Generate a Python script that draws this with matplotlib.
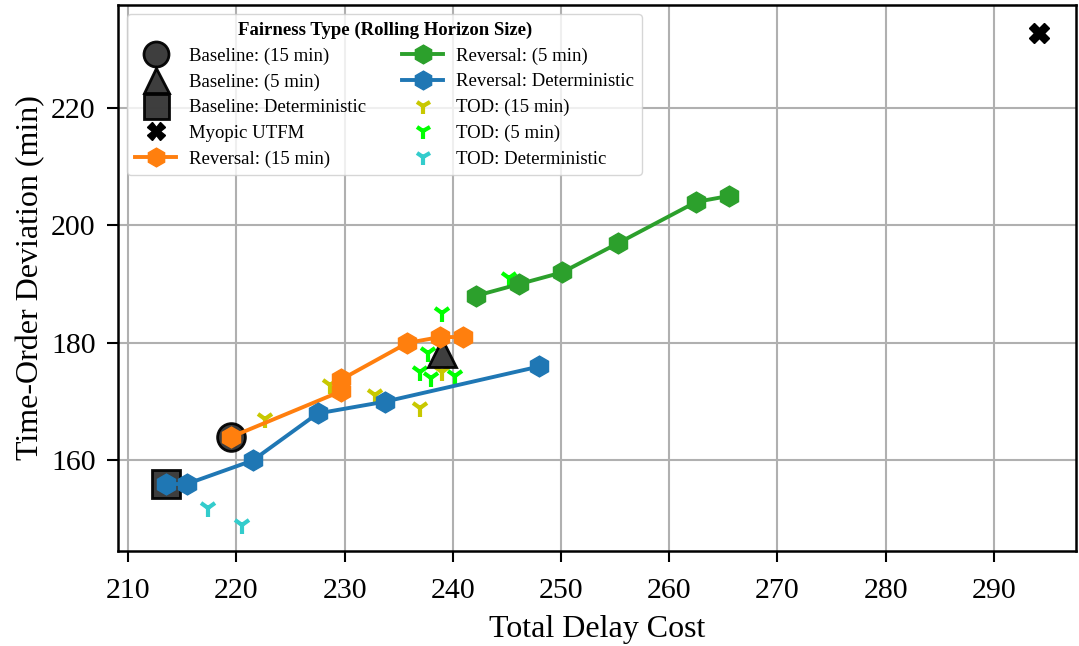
import numpy as np
import matplotlib
matplotlib.use('Agg')
import matplotlib.pyplot as plt

plt.rcParams['font.family'] = ['Liberation Serif', 'DejaVu Serif']

# baseline / myopic single points (total delay cost, time-order deviation)
base_15 = (219.5, 164.0)
base_5 = (239.0, 178.3)
base_det = (213.5, 156.0)
myopic = (294.2, 232.7)

# reversal fairness curves
rev15_x = [219.5, 229.7, 229.7, 235.8, 238.8, 240.9]
rev15_y = [164.0, 171.8, 173.8, 180.0, 181.0, 181.0]
rev5_x = [242.1, 246.1, 250.1, 255.3, 262.5, 265.5]
rev5_y = [188.0, 190.0, 192.0, 197.0, 204.0, 205.0]
revdet_x = [213.5, 215.4, 221.5, 227.5, 233.7, 248.0]
revdet_y = [156.0, 156.0, 160.0, 168.0, 170.0, 176.0]

# TOD fairness points
tod15_x = [222.6, 228.6, 232.8, 237.0, 239.0]
tod15_y = [167.0, 172.9, 171.2, 169.0, 175.0]
tod5_x = [237.0, 237.7, 238.0, 239.0, 240.2, 245.2]
tod5_y = [175.0, 178.3, 174.1, 185.1, 174.3, 191.0]
toddet_x = [217.4, 220.5]
toddet_y = [152.0, 149.1]

fig = plt.figure(figsize=(10.79, 6.46), dpi=100)
ax = fig.add_subplot(111)
fig.subplots_adjust(left=118/1079, right=1076/1079, top=1-5/646, bottom=1-551/646)

ax.grid(True, color='#b0b0b0', linewidth=1.5)
ax.set_axisbelow(True)

# TOD markers first (they sit under the rest)
tod_kw = dict(linestyle='none', marker='1', markersize=13, markeredgewidth=3)
h_t15, = ax.plot(tod15_x, tod15_y, color='#c8c800', label='TOD: (15 min)', **tod_kw)
h_t5, = ax.plot(tod5_x, tod5_y, color='#00ff00', label='TOD: (5 min)', **tod_kw)
h_tdet, = ax.plot(toddet_x, toddet_y, color='#33cccc', label='TOD: Deterministic', **tod_kw)

base_kw = dict(linestyle='none', markersize=20, markerfacecolor='#333333',
               markeredgecolor='black', markeredgewidth=2, alpha=0.95)
h_b15, = ax.plot([base_15[0]], [base_15[1]], marker='o', label='Baseline: (15 min)', **base_kw)
h_b5, = ax.plot([base_5[0]], [base_5[1]], marker='^', label='Baseline: (5 min)', **base_kw)
h_bdet, = ax.plot([base_det[0]], [base_det[1]], marker='s', label='Baseline: Deterministic', **base_kw)
h_my, = ax.plot([myopic[0]], [myopic[1]], linestyle='none', marker='X', markersize=14,
                color='black', label='Myopic UTFM')

rev_kw = dict(marker='h', markersize=15, linewidth=2.8)
h_r15, = ax.plot(rev15_x, rev15_y, color='#ff7f0e', label='Reversal: (15 min)', **rev_kw)
h_r5, = ax.plot(rev5_x, rev5_y, color='#2ca02c', label='Reversal: (5 min)', **rev_kw)
h_rdet, = ax.plot(revdet_x, revdet_y, color='#1f77b4', label='Reversal: Deterministic', **rev_kw)

ax.set_xlim(209.05, 297.6)
ax.set_ylim(144.6, 237.5)
ax.set_xticks(np.arange(210, 300, 10))
ax.set_yticks([160, 180, 200, 220])
ax.tick_params(labelsize=21.5, direction='out', length=8, width=1.5, pad=8)
ax.tick_params(axis='x', pad=11.5)
for s in ax.spines.values():
    s.set_linewidth(1.8)

ax.set_xlabel('Total Delay Cost', fontsize=23, labelpad=8)
ax.set_ylabel('Time-Order Deviation (min)', fontsize=23)

handles = [h_b15, h_b5, h_bdet, h_my, h_r15, h_r5, h_rdet, h_t15, h_t5, h_tdet]
leg = ax.legend(handles=handles, loc='upper left', ncol=2, fontsize=13.5,
                title='Fairness Type (Rolling Horizon Size)',
                title_fontproperties={'weight': 'bold', 'size': 13.5},
                labelspacing=0.45, columnspacing=1.9, handletextpad=0.7,
                handlelength=2.2, markerscale=0.9, borderaxespad=0.5)

fig.savefig('out.png', dpi=100)
